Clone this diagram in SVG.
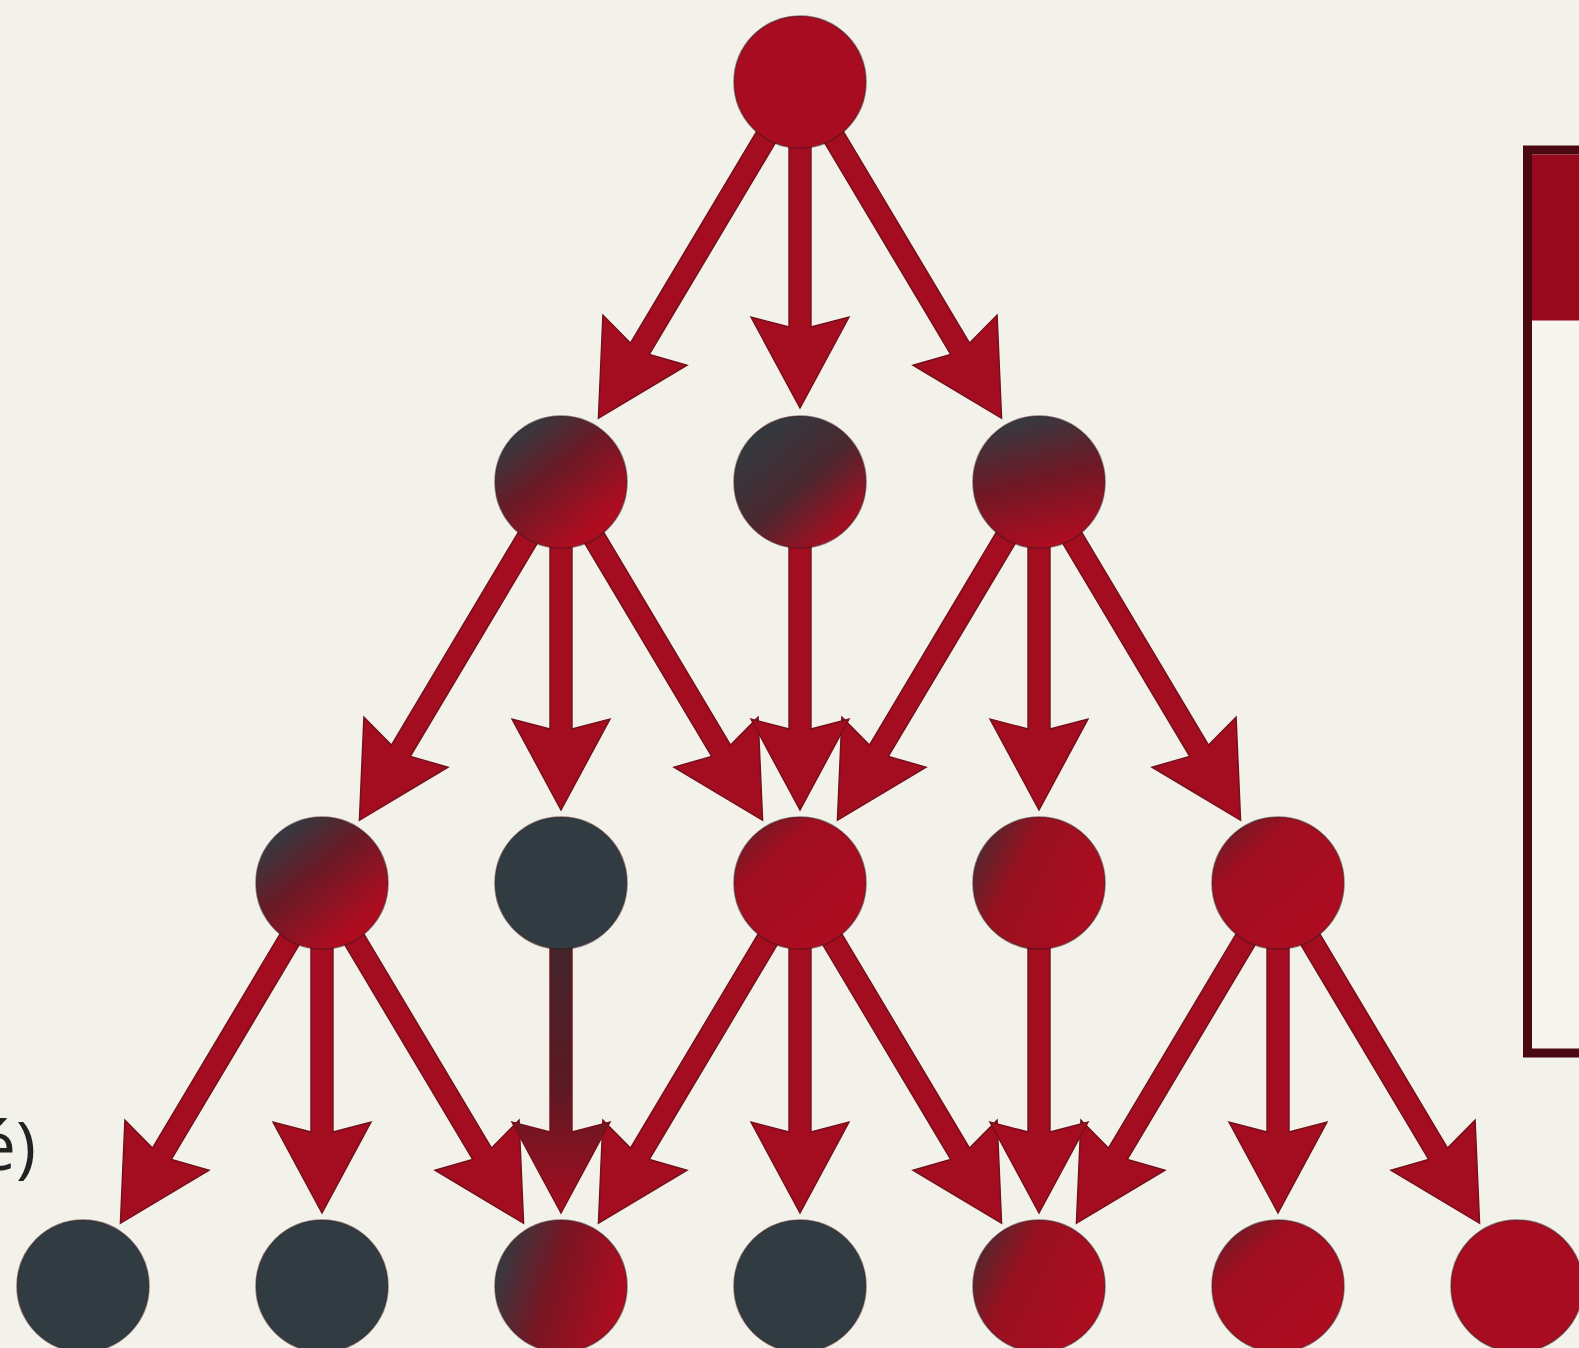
<svg xmlns="http://www.w3.org/2000/svg" xmlns:xlink="http://www.w3.org/1999/xlink" width="1579" height="1348" viewBox="0 0 1579 1348">
  <style>
    .arrow { fill: #A40C1F; stroke: #72101A; stroke-width: 1.4; stroke-linejoin: miter; }
    .node { stroke: #3a1a1e; stroke-opacity: 0.55; stroke-width: 1.5; }
    .red { fill: #A80C20; }
    .dark { fill: #303C42; }
    .label { font-family: "Open Sans", "Liberation Sans", sans-serif; font-size: 68px; fill: #222; }
  </style>
  <defs>
    <path id="arrV" d="M -11 -328 L -11 -81 L -49 -91 L 0 0 L 49 -91 L 11 -81 L 11 -328 Z"/>
    <path id="arrD" d="M -394 -11 L -81 -11 L -91 -49 L 0 0 L -91 49 L -81 11 L -394 11 Z"/>
    <linearGradient id="gTL" x1="0.15" y1="0.1" x2="0.75" y2="0.85">
      <stop offset="0" stop-color="#303C42"/>
      <stop offset="0.45" stop-color="#6a1a26"/>
      <stop offset="1" stop-color="#B00C20"/>
    </linearGradient>
    <linearGradient id="gTLdark" x1="0.1" y1="0.1" x2="0.8" y2="0.9">
      <stop offset="0" stop-color="#303C42"/>
      <stop offset="0.55" stop-color="#4a2830"/>
      <stop offset="1" stop-color="#A80C20"/>
    </linearGradient>
    <linearGradient id="gTop" x1="0.3" y1="0" x2="0.55" y2="1">
      <stop offset="0" stop-color="#303C42"/>
      <stop offset="0.5" stop-color="#701825"/>
      <stop offset="1" stop-color="#B00C20"/>
    </linearGradient>
    <linearGradient id="gLeft" x1="0" y1="0.3" x2="1" y2="0.6">
      <stop offset="0" stop-color="#303C42"/>
      <stop offset="0.45" stop-color="#7a1522"/>
      <stop offset="1" stop-color="#B00C20"/>
    </linearGradient>
    <linearGradient id="gLeftSoft" x1="0" y1="0.2" x2="1" y2="0.7">
      <stop offset="0" stop-color="#4a2a30"/>
      <stop offset="0.35" stop-color="#98101f"/>
      <stop offset="1" stop-color="#AE0C20"/>
    </linearGradient>
    <linearGradient id="gLight" x1="0" y1="0" x2="0.8" y2="0.9">
      <stop offset="0" stop-color="#5a2028"/>
      <stop offset="0.35" stop-color="#A00E20"/>
      <stop offset="1" stop-color="#AE0C20"/>
    </linearGradient>
    <linearGradient id="gShaft" x1="0" y1="0" x2="0" y2="1">
      <stop offset="0" stop-color="#3a2a30"/>
      <stop offset="0.6" stop-color="#5a1a24"/>
      <stop offset="1" stop-color="#A60C20"/>
    </linearGradient>
  </defs>

  <rect x="0" y="0" width="1579" height="1348" fill="#F2F1EA"/>

  <g id="label">
    <text class="label" x="36" y="1170" text-anchor="end">é)</text>
  </g>

  <g id="legend-box">
    <rect x="1527.5" y="150" width="80" height="903" fill="#F6F5EF" stroke="#4B0A12" stroke-width="9"/>
    <rect x="1532" y="154.5" width="60" height="166" fill="#970A1D"/>
  </g>

  <g id="connectors">
    <use href="#arrD" class="arrow" transform="translate(598.4,418.3) rotate(120.8)"/>
    <use href="#arrV" class="arrow" transform="translate(800,408)"/>
    <use href="#arrD" class="arrow" transform="translate(1001.6,418.3) rotate(59.2)"/>
    <use href="#arrD" class="arrow" transform="translate(359.4,820.3) rotate(120.8)"/>
    <use href="#arrV" class="arrow" transform="translate(561,810)"/>
    <use href="#arrD" class="arrow" transform="translate(762.6,820.3) rotate(59.2)"/>
    <use href="#arrD" class="arrow" transform="translate(837.4,820.3) rotate(120.8)"/>
    <use href="#arrV" class="arrow" transform="translate(1039,810)"/>
    <use href="#arrD" class="arrow" transform="translate(1240.6,820.3) rotate(59.2)"/>
    <use href="#arrV" class="arrow" transform="translate(800,810)"/>
    <use href="#arrD" class="arrow" transform="translate(120.4,1223.3) rotate(120.8)"/>
    <use href="#arrV" class="arrow" transform="translate(322,1213)"/>
    <use href="#arrD" class="arrow" transform="translate(523.6,1223.3) rotate(59.2)"/>
    <use href="#arrD" class="arrow" transform="translate(598.4,1223.3) rotate(120.8)"/>
    <use href="#arrV" class="arrow" transform="translate(800,1213)"/>
    <use href="#arrD" class="arrow" transform="translate(1001.6,1223.3) rotate(59.2)"/>
    <use href="#arrD" class="arrow" transform="translate(1076.4,1223.3) rotate(120.8)"/>
    <use href="#arrV" class="arrow" transform="translate(1278,1213)"/>
    <use href="#arrD" class="arrow" transform="translate(1479.6,1223.3) rotate(59.2)"/>
    <use href="#arrV" class="arrow" transform="translate(561,1213)" style="fill:url(#gShaft)"/>
    <use href="#arrV" class="arrow" transform="translate(1039,1213)"/>
  </g>

  <g id="nodes">
    <g id="n0"><circle class="node red" cx="800" cy="82" r="66"/></g>
    <g id="n1a"><circle class="node" cx="561" cy="482" r="66" fill="url(#gTL)"/></g>
    <g id="n1b"><circle class="node" cx="800" cy="482" r="66" fill="url(#gTLdark)"/></g>
    <g id="n1c"><circle class="node" cx="1039" cy="482" r="66" fill="url(#gTop)"/></g>
    <g id="n2a"><circle class="node" cx="322" cy="883" r="66" fill="url(#gTL)"/></g>
    <g id="n2b"><circle class="node dark" cx="561" cy="883" r="66"/></g>
    <g id="n2c"><circle class="node" cx="800" cy="883" r="66" fill="url(#gLight)"/></g>
    <g id="n2d"><circle class="node" cx="1039" cy="883" r="66" fill="url(#gLeftSoft)"/></g>
    <g id="n2e"><circle class="node" cx="1278" cy="883" r="66" fill="url(#gLight)"/></g>
    <g id="n3a"><circle class="node dark" cx="83" cy="1286" r="66"/></g>
    <g id="n3b"><circle class="node dark" cx="322" cy="1286" r="66"/></g>
    <g id="n3c"><circle class="node" cx="561" cy="1286" r="66" fill="url(#gLeft)"/></g>
    <g id="n3d"><circle class="node dark" cx="800" cy="1286" r="66"/></g>
    <g id="n3e"><circle class="node" cx="1039" cy="1286" r="66" fill="url(#gLeftSoft)"/></g>
    <g id="n3f"><circle class="node" cx="1278" cy="1286" r="66" fill="url(#gLight)"/></g>
    <g id="n3g"><circle class="node red" cx="1517" cy="1286" r="66"/></g>
  </g>
</svg>
